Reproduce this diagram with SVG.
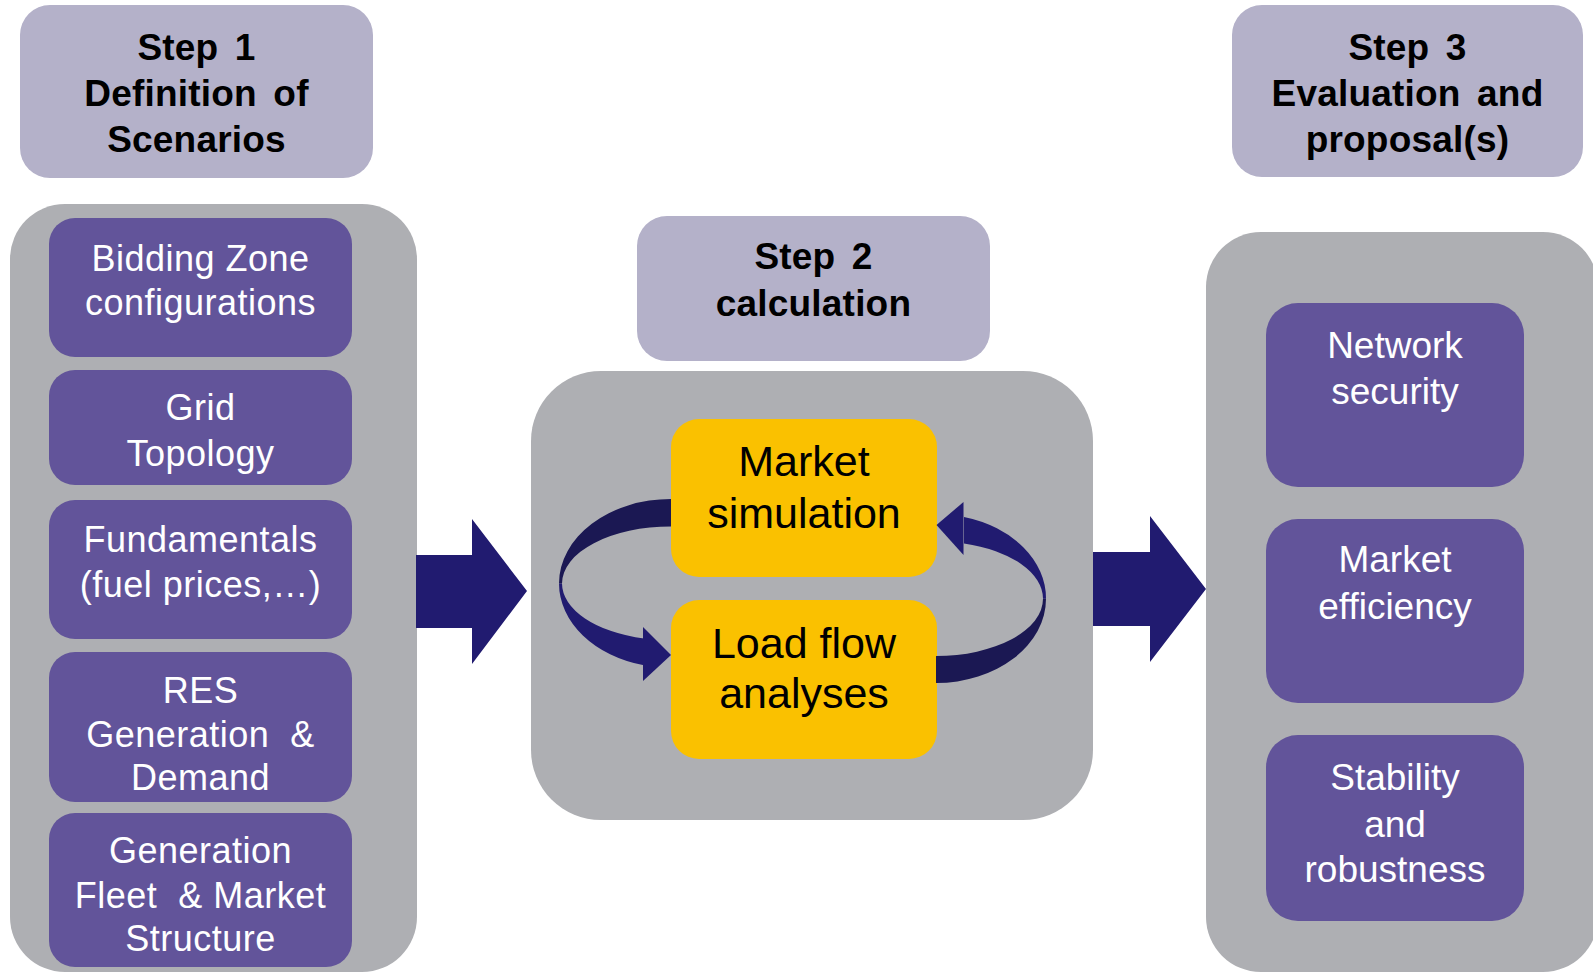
<svg xmlns="http://www.w3.org/2000/svg" width="1593" height="973" viewBox="0 0 1593 973">
<defs>
<style>
.hdr{fill:#B4B1C9}
.cont{fill:#AEAFB3}
.pbox{fill:#62549A}
.ybox{fill:#FAC100}
.navy{fill:#211B70}
.dark{fill:#1B1853}
.ht{font-family:"Liberation Sans",Arial,sans-serif;font-weight:bold;font-size:37px;fill:#000;text-anchor:middle;word-spacing:6px;letter-spacing:0.2px}
.wt{font-family:"Liberation Sans",Arial,sans-serif;font-size:36px;fill:#fff;text-anchor:middle;letter-spacing:0.5px}
.rt{font-family:"Liberation Sans",Arial,sans-serif;font-size:37px;fill:#fff;text-anchor:middle}
.yt{font-family:"Liberation Sans",Arial,sans-serif;font-size:43px;fill:#000;text-anchor:middle}
.pre{white-space:pre}
</style>
</defs>
<rect width="1593" height="973" fill="#fff"/>

<!-- containers -->
<g id="container-left"><rect class="cont" x="10" y="204" width="407" height="768" rx="55"/></g>
<g id="container-mid"><rect class="cont" x="531" y="371" width="562" height="449" rx="70"/></g>
<g id="container-right"><rect class="cont" x="1206" y="232" width="392" height="740" rx="55"/></g>

<!-- headers -->
<g id="step1">
<rect class="hdr" x="20" y="5" width="353" height="173" rx="30"/>
<text class="ht" x="196.5" y="60">Step 1</text>
<text class="ht" x="196.5" y="106">Definition of</text>
<text class="ht" x="196.5" y="152">Scenarios</text>
</g>
<g id="step2">
<rect class="hdr" x="637" y="216" width="353" height="145" rx="30"/>
<text class="ht" x="813.5" y="269">Step 2</text>
<text class="ht" x="813.5" y="316">calculation</text>
</g>
<g id="step3">
<rect class="hdr" x="1232" y="5" width="351" height="172" rx="30"/>
<text class="ht" x="1407.5" y="60">Step 3</text>
<text class="ht" x="1407.5" y="106">Evaluation and</text>
<text class="ht" x="1407.5" y="152">proposal(s)</text>
</g>

<!-- left boxes -->
<g id="bidding-zone">
<rect class="pbox" x="49" y="218" width="303" height="139" rx="26"/>
<text class="wt" x="200.5" y="271">Bidding Zone</text>
<text class="wt" x="200.5" y="315">configurations</text>
</g>
<g id="grid-topology">
<rect class="pbox" x="49" y="370" width="303" height="115" rx="26"/>
<text class="wt" x="200.5" y="420">Grid</text>
<text class="wt" x="200.5" y="466">Topology</text>
</g>
<g id="fundamentals">
<rect class="pbox" x="49" y="500" width="303" height="139" rx="26"/>
<text class="wt" x="200.5" y="552">Fundamentals</text>
<text class="wt" x="200.5" y="597">(fuel prices,…)</text>
</g>
<g id="res">
<rect class="pbox" x="49" y="652" width="303" height="150" rx="26"/>
<text class="wt" x="200.5" y="703">RES</text>
<text class="wt pre" x="200.5" y="747">Generation  &amp;</text>
<text class="wt" x="200.5" y="790">Demand</text>
</g>
<g id="generation-fleet">
<rect class="pbox" x="49" y="813" width="303" height="154" rx="26"/>
<text class="wt" x="200.5" y="863">Generation</text>
<text class="wt pre" x="200.5" y="908">Fleet  &amp; Market</text>
<text class="wt" x="200.5" y="951">Structure</text>
</g>

<!-- middle boxes -->
<g id="market-simulation">
<rect class="ybox" x="671" y="419" width="266" height="158" rx="28"/>
<text class="yt" x="804" y="476">Market</text>
<text class="yt" x="804" y="528">simulation</text>
</g>
<g id="load-flow">
<rect class="ybox" x="671" y="600" width="266" height="159" rx="28"/>
<text class="yt" x="804" y="658">Load flow</text>
<text class="yt" x="804" y="708">analyses</text>
</g>

<!-- right boxes -->
<g id="network-security">
<rect class="pbox" x="1266" y="303" width="258" height="184" rx="32"/>
<text class="rt" x="1395" y="358">Network</text>
<text class="rt" x="1395" y="404">security</text>
</g>
<g id="market-efficiency">
<rect class="pbox" x="1266" y="519" width="258" height="184" rx="32"/>
<text class="rt" x="1395" y="572">Market</text>
<text class="rt" x="1395" y="619">efficiency</text>
</g>
<g id="stability">
<rect class="pbox" x="1266" y="735" width="258" height="186" rx="32"/>
<text class="rt" x="1395" y="790">Stability</text>
<text class="rt" x="1395" y="837">and</text>
<text class="rt" x="1395" y="882">robustness</text>
</g>

<!-- connectors -->
<g id="connectors">
<polygon class="navy" points="416,555 472,555 472,519 527,591 472,664 472,628 416,628"/>
<polygon class="navy" points="1093,552 1150,552 1150,516 1206,589 1150,662 1150,626 1093,626"/>
<!-- left loop: market -> load flow -->
<path class="dark" d="M671,499 A112,84.5 0 0 0 559,583.5 L562,583.5 A109,57 0 0 1 671,526.5 Z"/>
<path class="navy" d="M559,583.5 A112,84.5 0 0 0 644,665.3 L644,638.6 A109,57 0 0 1 562,583.5 Z"/>
<polygon class="navy" points="643,627 671,655 643,681"/>
<!-- right loop: load flow -> market -->
<path class="dark" d="M936,683 A110,84.2 0 0 0 1046,598.8 L1043,598.8 A107,57.2 0 0 1 936,656 Z"/>
<path class="navy" d="M1046,598.8 A110,84.2 0 0 0 964,517 L964,543.4 A107,57.2 0 0 1 1043,598.8 Z"/>
<polygon class="navy" points="963.5,502 936.5,525 963.5,555"/>
</g>
</svg>
